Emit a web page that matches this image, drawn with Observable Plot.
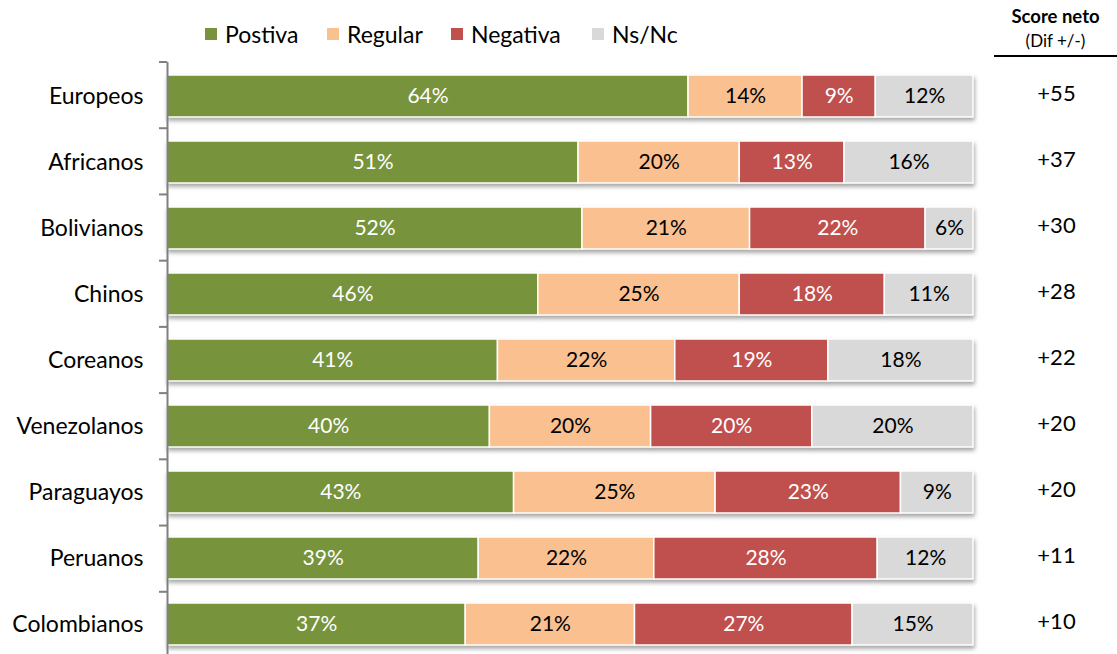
<!DOCTYPE html>
<html>
<head>
<meta charset="utf-8">
<script src="https://cdn.jsdelivr.net/npm/d3@7"></script>
<script src="https://cdn.jsdelivr.net/npm/@observablehq/plot@0.6"></script>
<style>
  html, body { margin: 0; padding: 0; background: #fff; overflow: hidden; }
  #wrap { position: relative; width: 1117px; height: 654px; font-family: Lato, "Open Sans", sans-serif; }
  #legend .item { position: absolute; top: 20px; display: flex; align-items: center; font-size: 23px; color: #000; white-space: nowrap; }
  #legend .sw { width: 12px; height: 12px; margin-right: 8px; }
  #score { position: absolute; left: 994px; top: 3px; width: 123px; text-align: center; color: #000; }
  #score .t1 { font-weight: bold; font-size: 18.5px; line-height: 26px; }
  #score .t2 { font-size: 17px; line-height: 24px; }
  #score .line { height: 2px; background: #000; margin-top: 2px; }
  #chart { position: absolute; left: 0; top: 0; }
</style>
</head>
<body>
<div id="wrap">
  <div id="chart"></div>
  <div id="legend"></div>
  <div id="score"><div class="t1">Score neto</div><div class="t2">(Dif +/-)</div><div class="line"></div></div>
</div>
<script>
const categories = ["Europeos","Africanos","Bolivianos","Chinos","Coreanos","Venezolanos","Paraguayos","Peruanos","Colombianos"];
const series = ["Postiva","Regular","Negativa","Ns/Nc"];
const colors = ["#77933C","#FAC090","#C0504D","#D9D9D9"];
const labelColors = ["#ffffff","#000000","#ffffff","#000000"];
const positiva = [64,51,52,46,41,40,43,39,37];
const regular  = [14,20,21,25,22,20,25,22,21];
const negativa = [9,13,22,18,19,20,23,28,27];
const nsnc     = [12,16,6,11,18,20,9,12,15];
const scores   = ["+55","+37","+30","+28","+22","+20","+20","+11","+10"];

const valuesBySeries = [positiva, regular, negativa, nsnc];
const data = [];
categories.forEach((cat, i) => {
  series.forEach((s, j) => {
    data.push({cat, series: s, value: valuesBySeries[j][i], labelColor: labelColors[j]});
  });
});

// legend (item positions only)
const legendLeft = [205, 327, 451, 592];
const legend = document.getElementById("legend");
series.forEach((s, j) => {
  const it = document.createElement("div");
  it.className = "item";
  it.style.left = legendLeft[j] + "px";
  it.innerHTML = `<div class="sw" style="background:${colors[j]}"></div><span>${s}</span>`;
  legend.appendChild(it);
});

const stackOpts = {x: "value", y: "cat", z: "series", offset: "normalize", order: null};

const chart = Plot.plot({
  width: 1117,
  height: 658,
  marginTop: 62,
  marginBottom: 0,
  marginLeft: 167,
  marginRight: 144,
  style: {fontFamily: "Lato, 'Open Sans', sans-serif", background: "transparent"},
  x: {domain: [0, 1], axis: null},
  y: {domain: categories, paddingInner: 0.36, paddingOuter: 0.18, axis: null},
  color: {domain: series, range: colors},
  marks: [
    Plot.barX(data, Plot.stackX({...stackOpts, fill: "series", stroke: "#fff", strokeWidth: 1.5,
      imageFilter: "drop-shadow(1px 3px 2px rgba(0,0,0,0.35))"})),
    Plot.text(data, Plot.stackX({...stackOpts, text: d => d.labelColor === "#ffffff" ? d.value + "%" : null, fill: "#fff", fontSize: 21})),
    Plot.text(data, Plot.stackX({...stackOpts, text: d => d.labelColor === "#000000" ? d.value + "%" : null, fill: "#000", fontSize: 21})),
    Plot.ruleX([0], {stroke: "#808080", strokeWidth: 2}),
    Plot.text(categories, {y: d => d, text: d => d, frameAnchor: "left", textAnchor: "end", dx: -24, fontSize: 23, fill: "#000"}),
    Plot.text(categories, {y: d => d, text: (d, i) => scores[i], frameAnchor: "right", textAnchor: "middle", dx: 83, dy: -3, fontSize: 22, fill: "#000"})
  ]
});

// category boundary ticks, using the y scale
const ys = chart.scale("y");
const yfn = d3.scaleBand().domain(ys.domain).range(ys.range).paddingInner(0.36).paddingOuter(0.18);
const step = yfn.step();
const xs = chart.scale("x");
const x0 = xs.range[0];
const bounds = categories.map(c => yfn(c) - step * 0.18).concat([yfn(categories[categories.length - 1]) + yfn.bandwidth() + step * 0.18]);
const svg = d3.select(chart);
svg.append("g").selectAll("line").data(bounds).join("line")
  .attr("x1", x0 - 8).attr("x2", x0).attr("y1", d => d).attr("y2", d => d)
  .attr("stroke", "#808080").attr("stroke-width", 2);

document.getElementById("chart").appendChild(chart);
</script>
</body>
</html>
